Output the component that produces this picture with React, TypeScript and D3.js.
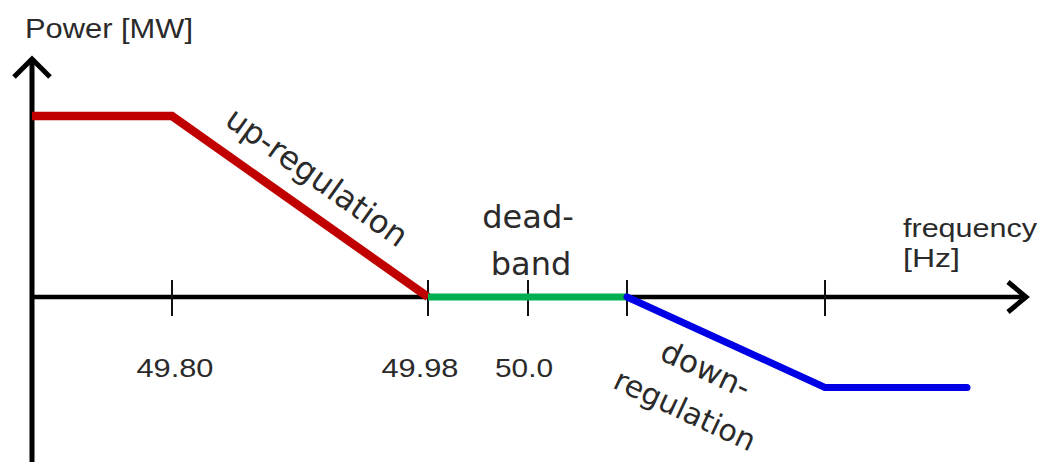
import React from "react";
import * as d3 from "d3";

// Frequency stops (Hz) used by the piecewise x scale
const freqStops = [49.7, 49.8, 49.98, 50.0, 50.02, 50.2, 50.3];
// Tick positions and labels
const tickFreqs = [49.8, 49.98, 50.0, 50.02, 50.2];
const tickLabels = ["49.80", "49.98", "50.0", "", ""];
// Series (frequency, power)
const upFreq = [49.7, 49.8, 49.98];
const upPower = [2, 2, 0];
const deadFreq = [49.98, 50.02];
const deadPower = [0, 0];
const downFreq = [50.02, 50.2, 50.3];
const downPower = [0, -1, -1];

const W = 1048;
const H = 462;

export default function App() {
  const x = d3
    .scaleLinear()
    .domain(freqStops)
    .range([32, 172, 428, 528, 627, 825, 967]);
  const y = d3.scaleLinear().domain([-1, 2]).range([387.5, 116]);

  const line = d3
    .line<[number, number]>()
    .x((d) => x(d[0]))
    .y((d) => y(d[1]));

  const mk = (f: number[], p: number[]) =>
    line(f.map((v, i) => [v, p[i]] as [number, number])) || "";

  const y0 = y(0);
  const axX0 = 32;
  const axXEnd = 1027;
  const axYTop = 58;

  const sans = "'Liberation Sans', Arial, sans-serif";
  const dv = "'DejaVu Sans', Verdana, sans-serif";
  const txt = "#2a2a2a";

  const labelDx = [3, -8, -4, 0, 0];

  return (
    <svg
      width={W}
      height={H}
      style={{ position: "absolute", left: 0, top: 0, display: "block", background: "#fff" }}
    >
      {/* axis title */}
      <text x={25} y={38} fontFamily={sans} fontSize={27} fill={txt} textLength={168} lengthAdjust="spacingAndGlyphs">
        Power [MW]
      </text>

      {/* y axis */}
      <line x1={axX0} x2={axX0} y1={axYTop} y2={H} stroke="#000" strokeWidth={5} />
      <polyline
        points={`${axX0 - 18},${axYTop + 19} ${axX0},${axYTop + 1} ${axX0 + 18},${axYTop + 19}`}
        fill="none"
        stroke="#000"
        strokeWidth={5}
      />

      {/* x axis */}
      <line x1={axX0} x2={axXEnd} y1={y0} y2={y0} stroke="#000" strokeWidth={4.5} />
      <polyline
        points={`${axXEnd - 19},${y0 - 15} ${axXEnd - 1},${y0} ${axXEnd - 19},${y0 + 15}`}
        fill="none"
        stroke="#000"
        strokeWidth={5}
      />

      {/* ticks */}
      {tickFreqs.map((f, i) => (
        <g key={i}>
          <line x1={x(f)} x2={x(f)} y1={y0 - 17} y2={y0 + 19} stroke="#111" strokeWidth={2} />
          {tickLabels[i] && (
            <text
              x={x(f) + labelDx[i]}
              y={377}
              textAnchor="middle"
              fontFamily={sans}
              fontSize={26}
              fill={txt}
              textLength={tickLabels[i].length > 4 ? 77 : 58}
              lengthAdjust="spacingAndGlyphs"
            >
              {tickLabels[i]}
            </text>
          )}
        </g>
      ))}

      {/* series */}
      <path d={mk(upFreq, upPower)} fill="none" stroke="#c00000" strokeWidth={8.5} strokeLinejoin="miter" />
      <path d={mk(deadFreq, deadPower)} fill="none" stroke="#00b050" strokeWidth={7} />
      <path
        d={mk(downFreq, downPower)}
        fill="none"
        stroke="#0000e6"
        strokeWidth={7}
        strokeLinecap="round"
        strokeLinejoin="round"
      />

      {/* annotations */}
      <text
        transform={`translate(317,177) rotate(35.5)`}
        textAnchor="middle"
        dominantBaseline="central"
        fontFamily={dv}
        fontSize={32}
        fill={txt}
      >
        up-regulation
      </text>

      <text x={528} y={228} textAnchor="middle" fontFamily={dv} fontSize={32} fill={txt}>
        dead-
      </text>
      <text x={531} y={275} textAnchor="middle" fontFamily={dv} fontSize={32} fill={txt}>
        band
      </text>

      <text
        transform={`translate(706,369) rotate(25)`}
        textAnchor="middle"
        dominantBaseline="central"
        fontFamily={dv}
        fontSize={31}
        fill={txt}
      >
        down-
      </text>
      <text
        transform={`translate(685,410) rotate(25)`}
        textAnchor="middle"
        dominantBaseline="central"
        fontFamily={dv}
        fontSize={30}
        fill={txt}
      >
        regulation
      </text>

      <text x={903} y={237} fontFamily={sans} fontSize={26} fill={txt} textLength={134} lengthAdjust="spacingAndGlyphs">
        frequency
      </text>
      <text x={903} y={267} fontFamily={sans} fontSize={26} fill={txt} textLength={57} lengthAdjust="spacingAndGlyphs">
        [Hz]
      </text>
    </svg>
  );
}
